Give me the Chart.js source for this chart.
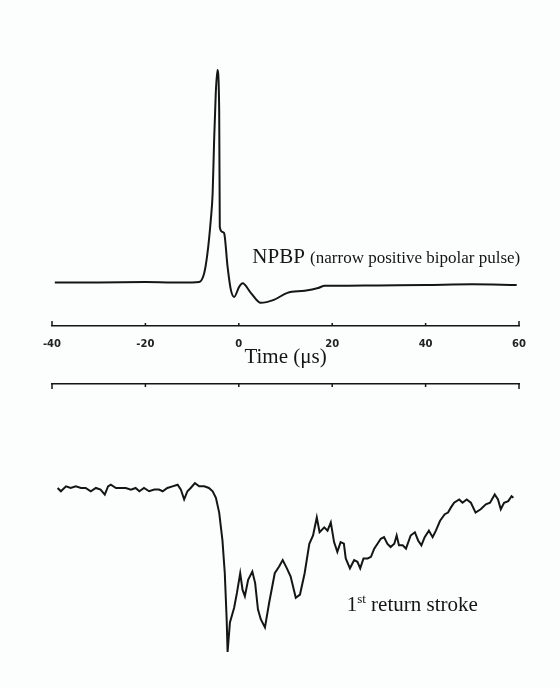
<!DOCTYPE html>
<html lang="en">
  <head>
    <meta charset="UTF-8" />
    <meta name="viewport" content="width=device-width, initial-scale=1.0" />
    <script src="https://cdn.jsdelivr.net/npm/chart.js@4.4.1/dist/chart.umd.min.js"></script>
    <title>NPBP and 1st return stroke</title>
    <style>
      body { margin: 0; background: #fcfdfd; }
      #wrap { position: relative; width: 560px; height: 688px; }
      canvas { position: absolute; left: 0; }
      #top { top: 0; }
      #bottom { top: 372px; }
    </style>
  </head>
  <body>
    <div id="wrap">
      <canvas id="top" width="560" height="372"></canvas>
      <canvas id="bottom" width="560" height="316"></canvas>
    </div>
    <script>
      // time axis (microseconds)
      const timeMin = -40;
      const timeMax = 60;
      const timeStep = 20;

      // NPBP (narrow positive bipolar pulse), normalised to peak = 1
      const npbpTime = [-39.4, -30, -20, -14, -10, -8.5, -7.4, -6.7, -6.0, -5.6, -5.3, -4.93, -4.57,
        -4.2, -4.07, -3.5, -3.15, -2.4, -1.7, -1.0, 0.07, 0.8, 2.57, 4.7, 7.5, 10.4, 14.1,
        17, 18.4, 21, 30, 40, 50, 59.5];
      const npbpField = [0, 0, 0.002, 0, 0, 0.002, 0.045, 0.139, 0.294, 0.421, 0.656, 0.892, 1.0,
        0.812, 0.261, 0.238, 0.233, 0.073, -0.035, -0.068, -0.021, -0.004, -0.049, -0.096, -0.082,
        -0.049, -0.039, -0.026, -0.016, -0.016, -0.014, -0.012, -0.009, -0.012];

      // 1st return stroke, normalised to minimum = -1
      const strokeTime = [-38.8, -38.1, -37.0, -36.0, -34.9, -33.8, -32.8, -31.7, -30.6, -29.6,
        -28.7, -28.0, -27.4, -26.3, -25.3, -24.2, -23.1, -22.1, -21.3, -20.3, -19.2, -18.1,
        -17.1, -16.3, -15.3, -14.2, -13.1, -12.4, -11.7, -11.0, -10.3, -9.4, -8.5, -7.4, -6.4,
        -5.6, -4.9, -4.2, -3.5, -3.0, -2.6, -2.4, -1.9, -1.0, -0.4, 0.3, 0.8, 1.3, 2.0, 2.9,
        3.5, 4.1, 4.7, 5.6, 6.5, 7.7, 8.6, 9.4, 10.3, 11.1, 12.2, 13.1, 14.1, 15.1, 15.9, 16.7,
        17.3, 18.3, 19.0, 19.7, 20.4, 21.1, 21.8, 22.5, 22.9, 23.8, 24.7, 25.4, 26.0, 26.7,
        27.6, 28.3, 29.0, 29.7, 30.4, 31.1, 31.8, 32.5, 33.3, 33.8, 34.3, 35.1, 35.8, 36.8,
        37.7, 38.4, 39.1, 39.8, 40.7, 41.5, 42.2, 43.1, 44.1, 44.8, 45.4, 46.1, 47.2, 47.9,
        48.8, 49.7, 50.7, 51.8, 52.9, 53.8, 54.8, 55.5, 56.1, 56.8, 57.7, 58.4, 58.8];
      const strokeField = [0, -0.02, 0.01, 0, 0.01, 0, 0, -0.02, 0, -0.01,
        -0.04, 0.01, 0.02, 0, 0, 0, -0.01, 0, -0.02, 0, -0.02, -0.01,
        -0.01, -0.02, 0, 0.01, 0.02, -0.01, -0.07, -0.02, 0, 0.03, 0.01, 0.01, 0,
        -0.02, -0.06, -0.15, -0.32, -0.52, -0.8, -1.0, -0.82, -0.73, -0.64, -0.52, -0.62, -0.66, -0.56, -0.51,
        -0.58, -0.74, -0.8, -0.85, -0.7, -0.52, -0.48, -0.44, -0.49, -0.54, -0.67, -0.65, -0.52, -0.34, -0.29, -0.18,
        -0.27, -0.24, -0.26, -0.21, -0.33, -0.39, -0.33, -0.34, -0.43, -0.49, -0.44, -0.45, -0.49, -0.43,
        -0.43, -0.42, -0.37, -0.34, -0.31, -0.3, -0.34, -0.36, -0.34, -0.29, -0.35, -0.35, -0.37, -0.29,
        -0.27, -0.32, -0.35, -0.3, -0.26, -0.3, -0.26, -0.2, -0.16, -0.15, -0.12, -0.09, -0.07, -0.09,
        -0.07, -0.09, -0.15, -0.13, -0.1, -0.09, -0.04, -0.07, -0.13, -0.09, -0.08, -0.05, -0.06];

      const ink = "#151515";

      // small inward tick marks on the time axis
      const tickMarks = {
        id: "tickMarks",
        afterDraw(chart, args, opts) {
          const s = chart.scales.x;
          const ctx = chart.ctx;
          const y0 = opts.dir < 0 ? s.top : s.bottom;
          ctx.save();
          ctx.strokeStyle = ink;
          ctx.lineWidth = 1.5;
          s.ticks.forEach((t, i) => {
            const px = s.getPixelForValue(t.value);
            const end = i === 0 || i === s.ticks.length - 1;
            const len = end ? 5 : 3;
            ctx.beginPath();
            ctx.moveTo(px, y0);
            ctx.lineTo(px, y0 + opts.dir * len);
            ctx.stroke();
          });
          ctx.restore();
        },
      };

      // text label anchored at a data point, drawn in pieces (for mixed sizes)
      const waveLabel = {
        id: "waveLabel",
        afterDatasetsDraw(chart, args, opts) {
          const { ctx, scales } = chart;
          let px = scales.x.getPixelForValue(opts.at[0]);
          const py = scales.y.getPixelForValue(opts.at[1]);
          ctx.save();
          ctx.fillStyle = ink;
          ctx.textBaseline = "alphabetic";
          opts.parts.forEach((p) => {
            ctx.font = p.font;
            ctx.fillText(p.text, px, py - (p.rise || 0));
            px += ctx.measureText(p.text).width;
          });
          ctx.restore();
        },
      };

      function points(xs, ys) {
        return xs.map((x, i) => ({ x: x, y: ys[i] }));
      }

      new Chart(document.getElementById("top"), {
        type: "line",
        data: {
          datasets: [{
            data: points(npbpTime, npbpField),
            borderColor: ink,
            borderWidth: 2,
            pointRadius: 0,
            cubicInterpolationMode: "monotone",
          }],
        },
        options: {
          responsive: false,
          animation: false,
          layout: { padding: { left: 52, right: 41, top: 60, bottom: 0 } },
          plugins: {
            legend: { display: false },
            tooltip: { enabled: false },
            tickMarks: { dir: -1 },
            waveLabel: {
              at: [2.9, 0.092],
              parts: [
                { text: "NPBP ", font: "21px 'Liberation Serif'" },
                { text: "(narrow positive bipolar pulse)", font: "17px 'Liberation Serif'" },
              ],
            },
          },
          scales: {
            x: {
              type: "linear",
              position: "bottom",
              min: timeMin,
              max: timeMax,
              afterFit: (s) => { s.height = 46; },
              grid: { display: false },
              border: { color: ink, width: 1.5 },
              ticks: {
                stepSize: timeStep,
                padding: 4,
                color: "#222",
                maxRotation: 0,
                font: { family: "DejaVu Sans", weight: "bold", size: 10 },
              },
              title: {
                display: true,
                text: "Time (μs)",
                color: ink,
                font: { family: "Liberation Serif", size: 21 },
                padding: { top: 0, bottom: 2 },
              },
            },
            y: { display: false, min: -0.205, max: 1.047 },
          },
        },
        plugins: [tickMarks, waveLabel],
      });

      new Chart(document.getElementById("bottom"), {
        type: "line",
        data: {
          datasets: [{
            data: points(strokeTime, strokeField),
            borderColor: ink,
            borderWidth: 2,
            pointRadius: 0,
            tension: 0,
          }],
        },
        options: {
          responsive: false,
          animation: false,
          layout: { padding: { left: 52, right: 41, top: 0, bottom: 18 } },
          plugins: {
            legend: { display: false },
            tooltip: { enabled: false },
            tickMarks: { dir: 1 },
            waveLabel: {
              at: [23.1, -0.75],
              parts: [
                { text: "1", font: "21px 'Liberation Serif'" },
                { text: "st", font: "13px 'Liberation Serif'", rise: 8 },
                { text: " return stroke", font: "21px 'Liberation Serif'" },
              ],
            },
          },
          scales: {
            x: {
              type: "linear",
              position: "top",
              min: timeMin,
              max: timeMax,
              afterFit: (s) => { s.height = 12; },
              grid: { display: false },
              border: { color: ink, width: 1.5 },
              ticks: { stepSize: timeStep, display: false },
            },
            y: { display: false, min: -1.11, max: 0.634 },
          },
        },
        plugins: [tickMarks, waveLabel],
      });
    </script>
  </body>
</html>
